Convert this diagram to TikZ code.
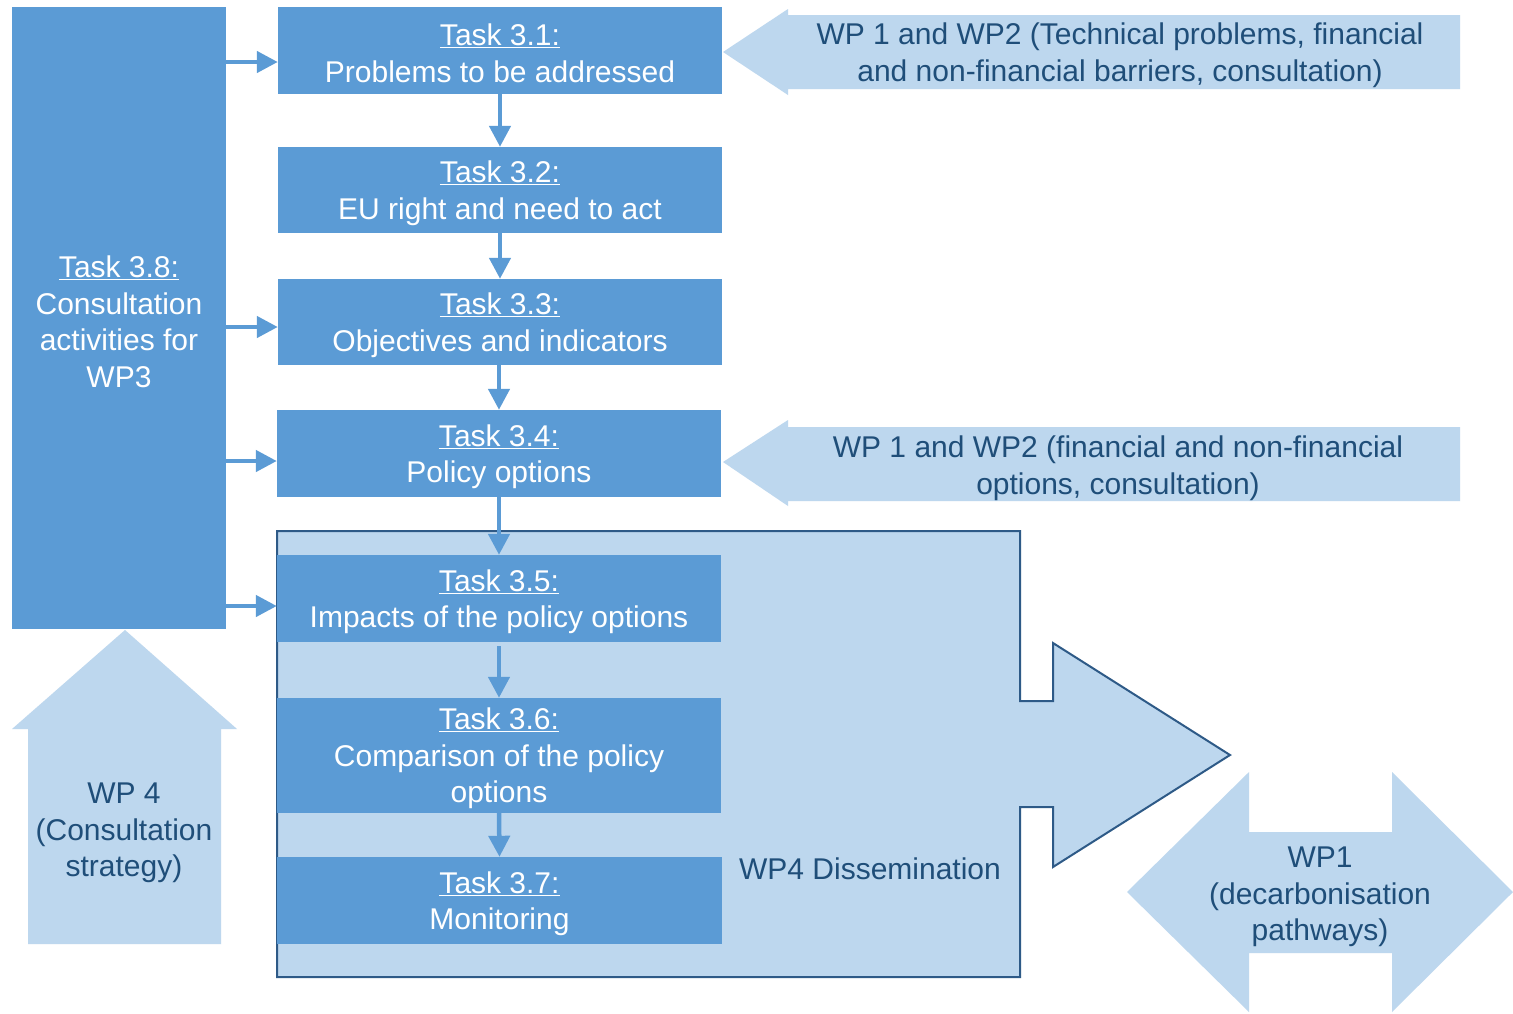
\documentclass[tikz,border=0pt]{standalone}
\usepackage{fontspec}
\setmainfont{Liberation Sans}
\usetikzlibrary{arrows.meta}
\definecolor{taskblue}{HTML}{5B9BD5}
\definecolor{lightblue}{HTML}{BDD7EE}
\definecolor{darkline}{HTML}{2E5A87}
\definecolor{darktext}{HTML}{1F4E79}
\tikzset{
  taskbox/.style={draw=none, fill=taskblue, inner sep=0pt},
  tasktext/.style={text=white, align=center, inner sep=0pt, yshift=-3pt,
    font=\fontsize{30}{36.5}\selectfont},
  darklabel/.style={text=darktext, align=center, inner sep=0pt,
    font=\fontsize{30}{36.5}\selectfont},
  conn/.style={draw=taskblue, line width=4.5pt, -{Triangle[length=21pt,width=21pt]}},
  lightshape/.style={fill=lightblue, draw=none},
}
\begin{document}
\begin{tikzpicture}[x=1pt,y=-1pt]
\useasboundingbox (0,0) rectangle (1513,1013);
\fill[white] (0,0) rectangle (1513,1013);

% WP4 dissemination outline arrow
\path[fill=lightblue, draw=darkline, line width=2pt]
  (277,531) -- (1020,531) -- (1020,701) -- (1053,701) -- (1053,643) -- (1230,755)
  -- (1053,867) -- (1053,807) -- (1020,807) -- (1020,977) -- (277,977) -- cycle;
\node[darklabel] (wp4d) at (870,869) {WP4 Dissemination};

% WP4 consultation up arrow
\path[lightshape] (125,630) -- (237,729) -- (221,729) -- (221,944) -- (28,944) -- (28,729) -- (12,729) -- cycle;
\node[darklabel] (wp4c) at (124,833) {WP 4\\(Consultation\\strategy)};

% WP1 double arrow
\path[lightshape] (1127,892) -- (1249,772) -- (1249,832) -- (1392,832) -- (1392,772) -- (1513,892)
  -- (1392,1012) -- (1392,953) -- (1249,953) -- (1249,1012) -- cycle;
\node[darklabel] (wp1) at (1320,897) {WP1\\(decarbonisation\\pathways)};

% input arrows from WP1/WP2
\path[lightshape] (723,52) -- (788,9) -- (788,15) -- (1460,15) -- (1460,89) -- (788,89) -- (788,95) -- cycle;
\node[darklabel] (in1) at (1120,55) {WP 1 and WP2 (Technical problems, financial\\and non-financial barriers, consultation)};
\path[lightshape] (723,462) -- (788,420) -- (788,427) -- (1460,427) -- (1460,501) -- (788,501) -- (788,506) -- cycle;
\node[darklabel] (in2) at (1118,468) {WP 1 and WP2 (financial and non-financial\\options, consultation)};

% task boxes
\node[taskbox, minimum width=214pt, minimum height=622pt] (t38) at (119,318) {};
\node[taskbox, minimum width=444pt, minimum height=87pt] (t31) at (500,50.5) {};
\node[taskbox, minimum width=444pt, minimum height=86pt] (t32) at (500,190) {};
\node[taskbox, minimum width=444pt, minimum height=86pt] (t33) at (500,322) {};
\node[taskbox, minimum width=444pt, minimum height=87pt] (t34) at (499,453.5) {};
\node[taskbox, minimum width=444pt, minimum height=87pt] (t35) at (499,598.5) {};
\node[taskbox, minimum width=444pt, minimum height=115pt] (t36) at (499,755.5) {};
\node[taskbox, minimum width=445pt, minimum height=87pt] (t37) at (499.5,900.5) {};

\node[tasktext, yshift=-1pt] (t38txt) at (t38) {\underline{Task 3.8:}\\Consultation\\activities for\\WP3};
\node[tasktext] (t31txt) at (t31) {\underline{Task 3.1:}\\Problems to be addressed};
\node[tasktext] (t32txt) at (t32) {\underline{Task 3.2:}\\EU right and need to act};
\node[tasktext] (t33txt) at (t33) {\underline{Task 3.3:}\\Objectives and indicators};
\node[tasktext] (t34txt) at (t34) {\underline{Task 3.4:}\\Policy options};
\node[tasktext] (t35txt) at (t35) {\underline{Task 3.5:}\\Impacts of the policy options};
\node[tasktext] (t36txt) at (t36) {\underline{Task 3.6:}\\Comparison of the policy\\options};
\node[tasktext] (t37txt) at (t37) {\underline{Task 3.7:}\\Monitoring};

% vertical connectors
\draw[conn] (t31.south) -- (t32.north);
\draw[conn] (t32.south) -- (t33.north);
\draw[conn] (t33.south -| t34.north) -- (t34.north);
\draw[conn] (t34.south) -- (t35.north);
\draw[conn, shorten <=4pt] (t35.south) -- (t36.north);
\draw[conn] (t36.south) -- (t37.north);

% horizontal connectors from Task 3.8
\coordinate (e31) at ([yshift=-11.5pt]t31.west);
\coordinate (e33) at ([yshift=-5pt]t33.west);
\coordinate (e34) at ([yshift=-7.5pt]t34.west);
\coordinate (e35) at ([yshift=-7.5pt]t35.west);
\draw[conn] (e31 -| t38.east) -- (e31);
\draw[conn] (e33 -| t38.east) -- (e33);
\draw[conn] (e34 -| t38.east) -- (e34);
\draw[conn] (e35 -| t38.east) -- (e35);
\end{tikzpicture}
\end{document}
